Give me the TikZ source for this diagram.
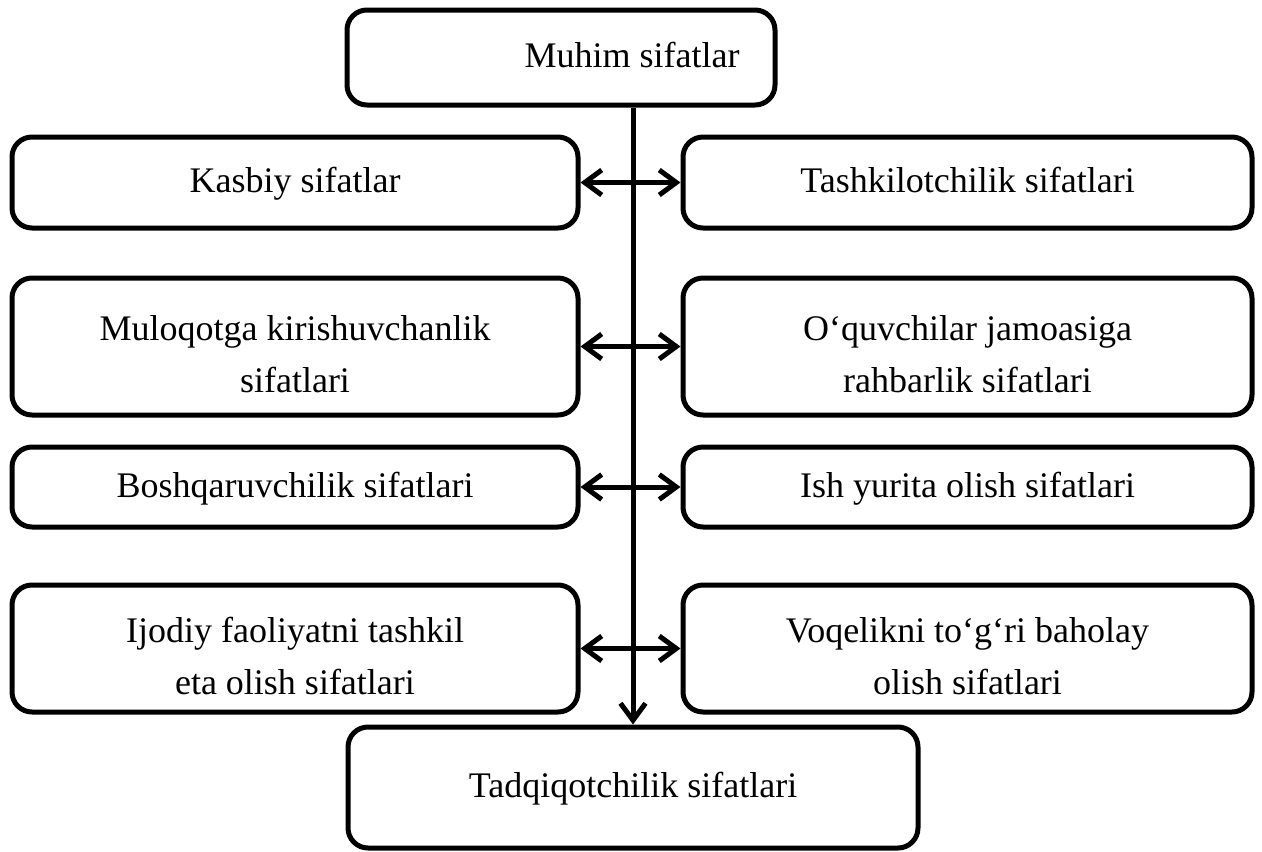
\documentclass[tikz,border=0pt]{standalone}
\usepackage{fontspec}
\setmainfont{Liberation Serif}
\usetikzlibrary{arrows.meta}
\newcommand{\topstrut}{\rule{0pt}{56pt}}
\begin{document}
\begin{tikzpicture}[x=1pt,y=-1pt,
  box/.style={draw, line width=5pt, rounded corners=20pt, align=center, inner sep=0pt,
    font=\fontsize{36}{52}\selectfont},
  conn/.style={line width=5pt},
  tip/.style={-{Straight Barb[length=17pt,width=25pt,line width=5pt]}},
  both/.style={{Straight Barb[length=17pt,width=25pt,line width=5pt]}-{Straight Barb[length=17pt,width=25pt,line width=5pt]}}
]
\useasboundingbox (0,0) rectangle (1262,852);
\node[box, minimum width=428pt, minimum height=95pt] (top) at (561,57.5) {\hspace*{142pt}Muhim sifatlar\strut};
\node[box, minimum width=566pt, minimum height=91pt] (l1) at (295,182.5) {Kasbiy sifatlar\strut};
\node[box, minimum width=569pt, minimum height=91pt] (r1) at (967.5,182.5) {Tashkilotchilik sifatlari\strut};
\node[box, minimum width=566pt, minimum height=137pt] (l2) at (295,346.5) {\topstrut Muloqotga kirishuvchanlik\\sifatlari\strut};
\node[box, minimum width=569pt, minimum height=137pt] (r2) at (967.5,346.5) {\topstrut O‘quvchilar jamoasiga\\rahbarlik sifatlari\strut};
\node[box, minimum width=566pt, minimum height=80pt] (l3) at (295,487) {Boshqaruvchilik sifatlari\strut};
\node[box, minimum width=569pt, minimum height=80pt] (r3) at (967.5,487) {Ish yurita olish sifatlari\strut};
\node[box, minimum width=566pt, minimum height=127pt] (l4) at (295,648.5) {\topstrut Ijodiy faoliyatni tashkil\\eta olish sifatlari\strut};
\node[box, minimum width=569pt, minimum height=127pt] (r4) at (967.5,648.5) {\topstrut Voqelikni to‘g‘ri baholay\\olish sifatlari\strut};
\node[box, minimum width=570pt, minimum height=121pt] (bot) at (633,787.5) {Tadqiqotchilik sifatlari\strut};
\draw[conn, tip] (bot.north |- top.south) -- (bot.north);
\draw[conn, both] (l1.east) -- (r1.west);
\draw[conn, both] (l2.east) -- (r2.west);
\draw[conn, both] (l3.east) -- (r3.west);
\draw[conn, both] (l4.east) -- (r4.west);
\end{tikzpicture}
\end{document}
